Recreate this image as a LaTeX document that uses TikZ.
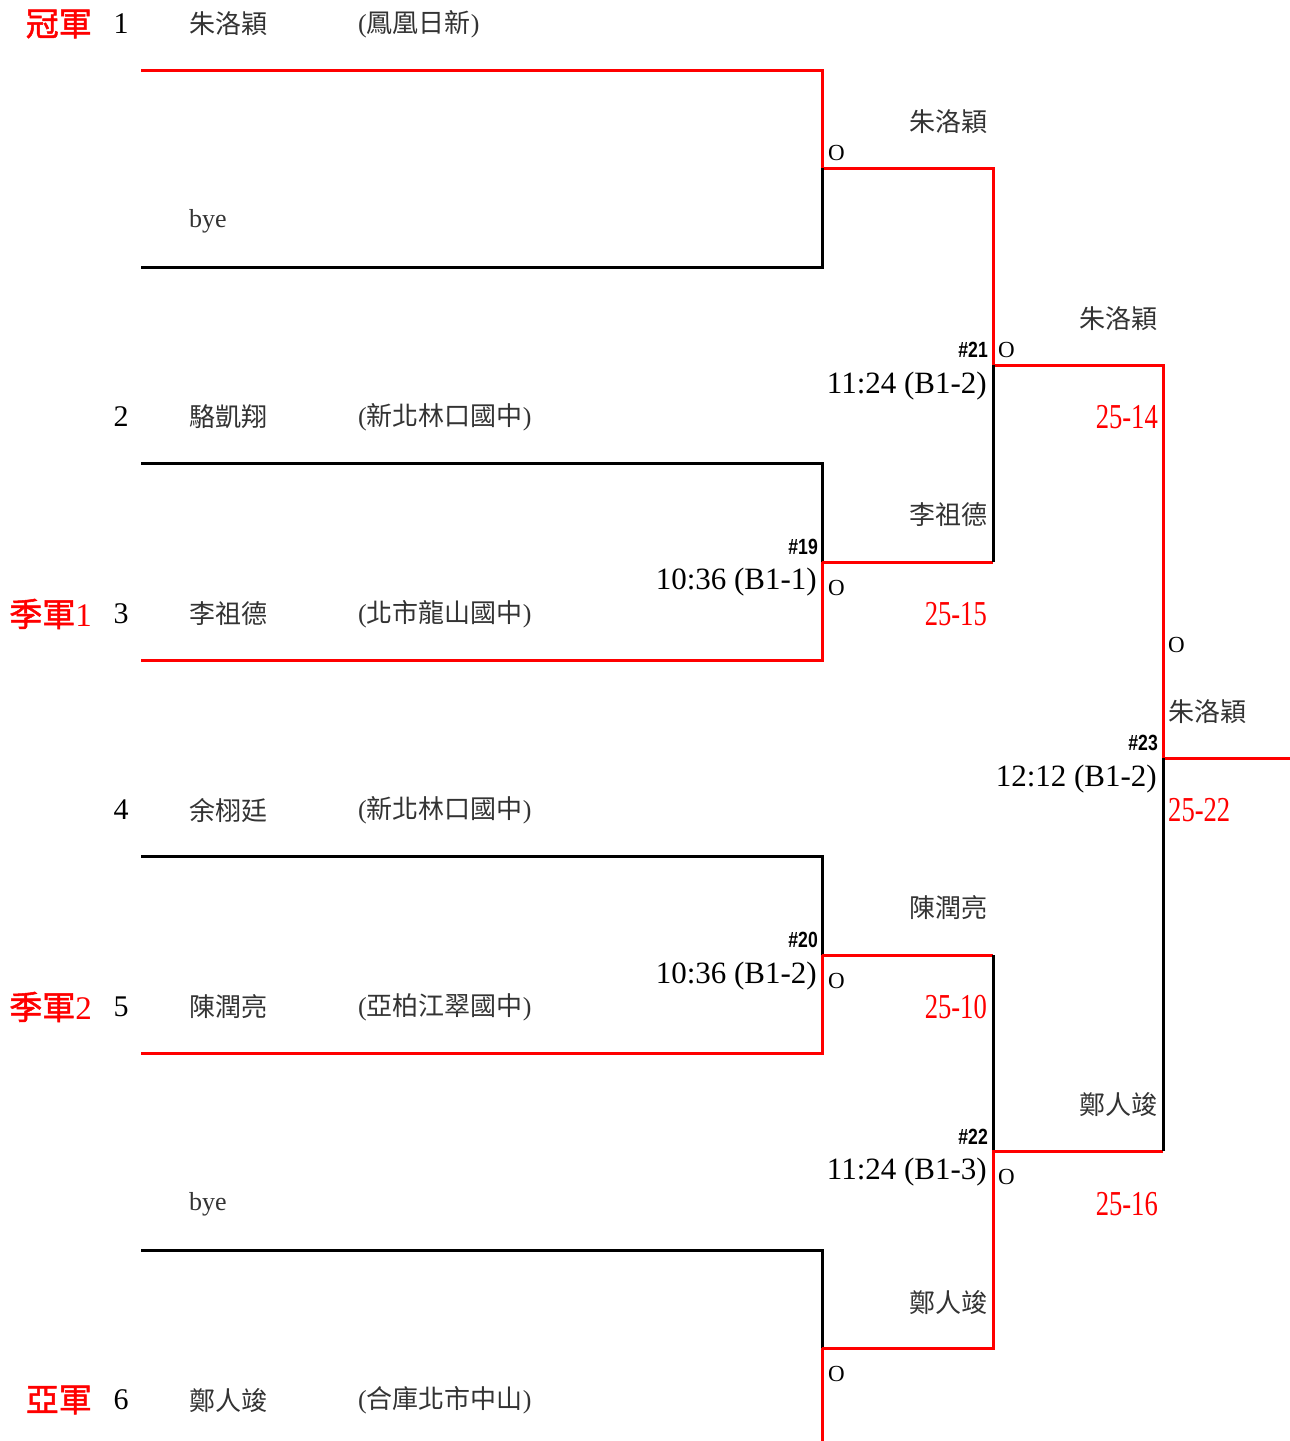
\documentclass[tikz,border=0pt]{standalone}
\usepackage{fontspec}
\usepackage{graphicx}
\setmainfont{Liberation Serif}
\setsansfont{Liberation Sans}
\newfontfamily\cjk{Noto Sans CJK TC}
\newfontfamily\cjkbold[FakeBold=1.5]{Noto Sans CJK TC}
\usetikzlibrary{positioning}

\begin{document}
\begin{tikzpicture}[x=1pt,y=-1pt,
  wire/.style = {line width=3pt},
  red wire/.style = {line width=3pt, red},
  player/.style = {anchor=west, inner sep=0pt, text=black!80, font=\fontsize{26}{26}\selectfont\cjk},
  school/.style = {anchor=west, inner sep=0pt, text=black!80, font=\fontsize{26}{26}\selectfont},
  seed/.style = {inner sep=0pt, font=\fontsize{30}{30}\selectfont},
  prize/.style = {anchor=east, inner sep=0pt, red, font=\fontsize{33}{33}\selectfont\cjkbold},
  winner/.style = {inner sep=0pt, text=black!80, font=\fontsize{26}{26}\selectfont\cjk},
  clock/.style = {anchor=east, inner sep=0pt, font=\fontsize{31}{31}\selectfont},
  gameno/.style = {anchor=east, inner sep=0pt, font=\fontsize{22}{22}\selectfont\sffamily\bfseries},
  okmark/.style = {anchor=west, inner sep=0pt, font=\fontsize{23}{23}\selectfont},
  result/.style = {inner sep=0pt, red, font=\fontsize{35}{35}\selectfont}]
\useasboundingbox (0,0) rectangle (1290,1441);

\coordinate (s1l) at (141,70);   \coordinate (s1r) at (822,70);
\coordinate (s2l) at (141,267);  \coordinate (s2r) at (822,267);
\coordinate (s3l) at (141,463);  \coordinate (s3r) at (822,463);
\coordinate (s4l) at (141,660);  \coordinate (s4r) at (822,660);
\coordinate (s5l) at (141,856);  \coordinate (s5r) at (822,856);
\coordinate (s6l) at (141,1053); \coordinate (s6r) at (822,1053);
\coordinate (s7l) at (141,1250); \coordinate (s7r) at (822,1250);
\coordinate (s8r) at (822,1441);
\coordinate (m1) at (822,168);   \coordinate (m1r) at (993,168);
\coordinate (m19) at (822,562);  \coordinate (m19r) at (993,562);
\coordinate (m20) at (822,955);  \coordinate (m20r) at (993,955);
\coordinate (m4) at (822,1348);  \coordinate (m4r) at (993,1348);
\coordinate (m21) at (993,365);  \coordinate (m21r) at (1163,365);
\coordinate (m22) at (993,1151); \coordinate (m22r) at (1163,1151);
\coordinate (m23) at (1163,758); \coordinate (m23r) at (1290,758);

\node[prize] (p1) at (92,24) {冠軍};
\node[prize] (p3) at (92,614) {季軍{\rmfamily 1}};
\node[prize] (p5) at (92,1007) {季軍{\rmfamily 2}};
\node[prize] (p6) at (92,1400) {亞軍};

\node[seed] (n1) at (121,24) {1};
\node[seed] (n2) at (121,417) {2};
\node[seed] (n3) at (121,614) {3};
\node[seed] (n4) at (121,810) {4};
\node[seed] (n5) at (121,1007) {5};
\node[seed] (n6) at (121,1400) {6};

\node[player] (a1) at (189,24) {朱洛穎};
\node[school] (bye1) at (189,221) {bye};
\node[player] (a2) at (189,417) {駱凱翔};
\node[player] (a3) at (189,614) {李祖德};
\node[player] (a4) at (189,810) {余栩廷};
\node[player] (a5) at (189,1007) {陳潤亮};
\node[school] (bye2) at (189,1204) {bye};
\node[player] (a6) at (189,1400) {鄭人竣};

\node[school] (c1) at (358,24) {({\cjk 鳳凰日新})};
\node[school] (c2) at (358,417) {({\cjk 新北林口國中})};
\node[school] (c3) at (358,614) {({\cjk 北市龍山國中})};
\node[school] (c4) at (358,810) {({\cjk 新北林口國中})};
\node[school] (c5) at (358,1007) {({\cjk 亞柏江翠國中})};
\node[school] (c6) at (358,1400) {({\cjk 合庫北市中山})};

\draw[red wire] (s1l) -- (s1r) -- (m1) -- (m1r) -- (m21) -- (m21r) -- (m23) -- (m23r);
\draw[wire] (m1) -- (s2r) -- (s2l);
\draw[wire] (s3l) -- (s3r) -- (m19);
\draw[red wire] (m19) -- (s4r) -- (s4l);
\draw[red wire] (m19) -- (m19r);
\draw[wire] (m19r) -- (m21);
\draw[wire] (s5l) -- (s5r) -- (m20);
\draw[red wire] (m20) -- (s6r) -- (s6l);
\draw[red wire] (m20) -- (m20r);
\draw[wire] (m20r) -- (m22);
\draw[wire] (s7l) -- (s7r) -- (m4);
\draw[red wire] (m4) -- (s8r);
\draw[red wire] (m4) -- (m4r) -- (m22) -- (m22r);
\draw[wire] (m22r) -- (m23);

\node[okmark] (o1) at (828,153) {O};
\node[okmark] (o19) at (828,588) {O};
\node[okmark] (o20) at (828,981) {O};
\node[okmark] (o4) at (828,1374) {O};
\node[okmark] (o21) at (998,350) {O};
\node[okmark] (o22) at (998,1177) {O};
\node[okmark] (o23) at (1168,645) {O};

\node[gameno] (g19) at (818,547) {\scalebox{0.8}[1]{\#19}};
\node[gameno] (g20) at (818,940) {\scalebox{0.8}[1]{\#20}};
\node[gameno] (g21) at (988,350) {\scalebox{0.8}[1]{\#21}};
\node[gameno] (g22) at (988,1137) {\scalebox{0.8}[1]{\#22}};
\node[gameno] (g23) at (1158,743) {\scalebox{0.8}[1]{\#23}};

\node[clock] (t19) at (817,582) {10:36 (B1-1)};
\node[clock] (t20) at (817,976) {10:36 (B1-2)};
\node[clock] (t21) at (987,386) {11:24 (B1-2)};
\node[clock] (t22) at (987,1172) {11:24 (B1-3)};
\node[clock] (t23) at (1157,779) {12:12 (B1-2)};

\node[winner, anchor=east] (w1) at (988,122) {朱洛穎};
\node[winner, anchor=east] (w19) at (988,515) {李祖德};
\node[winner, anchor=east] (w20) at (988,908) {陳潤亮};
\node[winner, anchor=east] (w4) at (988,1302) {鄭人竣};
\node[winner, anchor=east] (w21) at (1158,319) {朱洛穎};
\node[winner, anchor=east] (w22) at (1158,1105) {鄭人竣};
\node[winner, anchor=west] (w23) at (1168,712) {朱洛穎};

\node[result, anchor=east] (r19) at (987,614) {\scalebox{0.76}[1]{25-15}};
\node[result, anchor=east] (r20) at (987,1007) {\scalebox{0.76}[1]{25-10}};
\node[result, anchor=east] (r21) at (1158,417) {\scalebox{0.76}[1]{25-14}};
\node[result, anchor=east] (r22) at (1158,1204) {\scalebox{0.76}[1]{25-16}};
\node[result, anchor=west] (r23) at (1168,810) {\scalebox{0.76}[1]{25-22}};
\end{tikzpicture}
\end{document}
